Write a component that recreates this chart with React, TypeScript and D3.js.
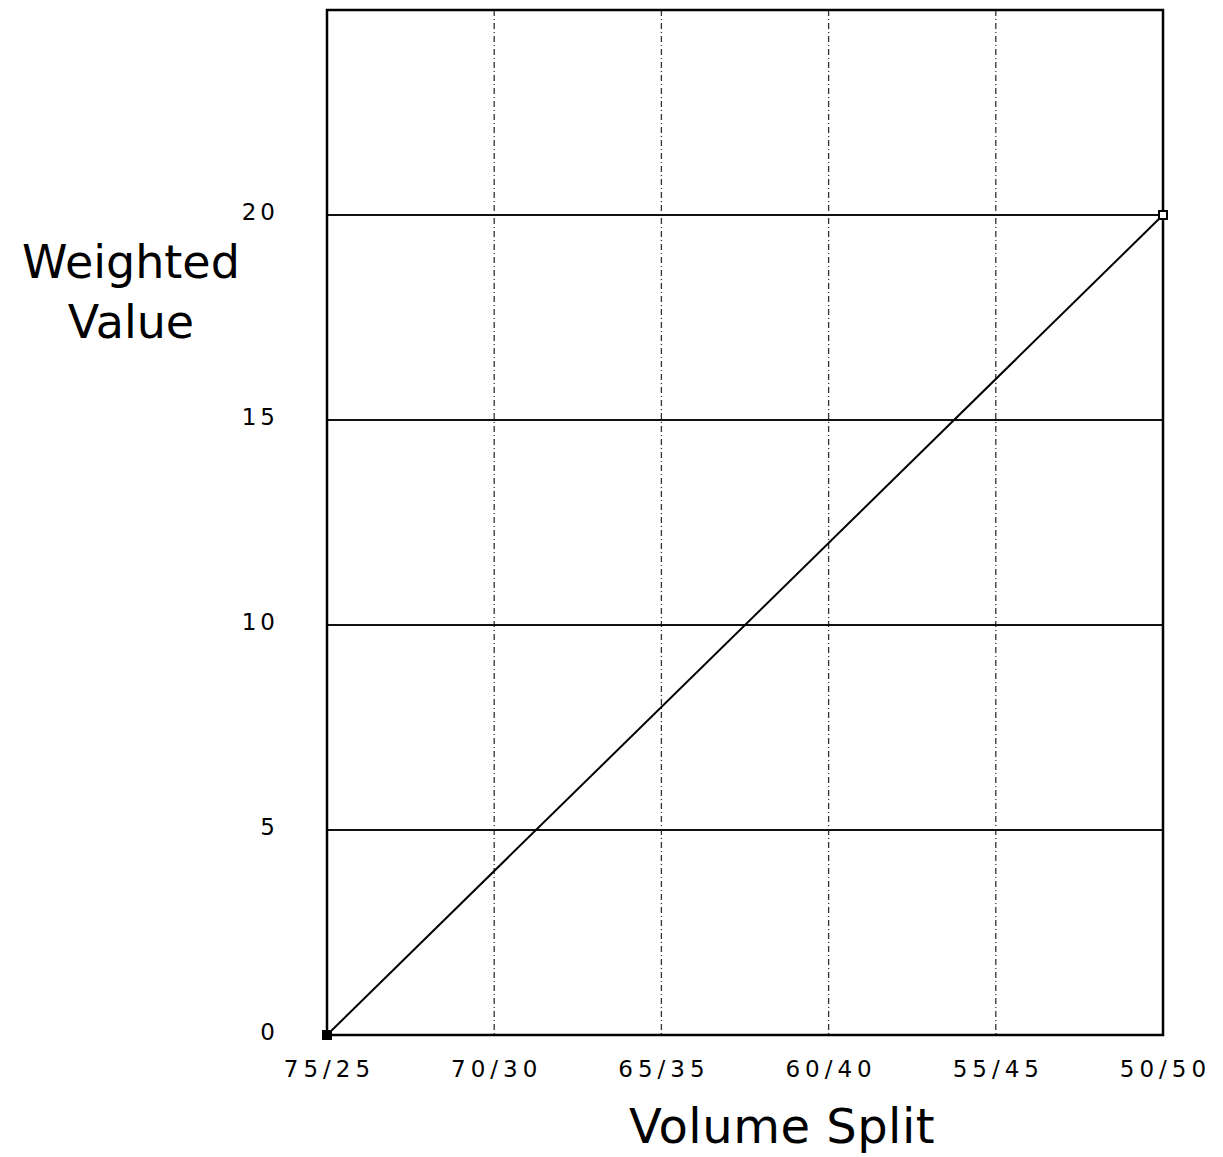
import React from "react";
import * as d3 from "d3";

// x categories (volume split), left to right
const splits = ["75/25", "70/30", "65/35", "60/40", "55/45", "50/50"];
// y ticks drawn with labels
const valueTicks = [0, 5, 10, 15, 20];
// the plotted series: only the end points are marked
const seriesSplits = ["75/25", "50/50"];
const seriesValues = [0, 20];

const W = 1223;
const H = 1157;
const margin = { top: 10, right: 60, bottom: 122, left: 327 };

export default function App() {
  const x = d3
    .scalePoint<string>()
    .domain(splits)
    .range([margin.left, W - margin.right]);

  const y = d3
    .scaleLinear()
    .domain([0, 25])
    .range([H - margin.bottom, margin.top]);

  const points = seriesSplits.map((s, i) => ({ s, v: seriesValues[i] }));

  const line = d3
    .line<{ s: string; v: number }>()
    .x((d) => x(d.s)!)
    .y((d) => y(d.v));

  const x0 = x.range()[0];
  const x1 = x.range()[1];
  const yTop = y(25);
  const yBottom = y(0);

  const font = "'DejaVu Sans', Verdana, sans-serif";
  const tickLs = 5;

  return (
    <svg
      width={W}
      height={H}
      style={{ position: "absolute", left: 0, top: 0, background: "#fff" }}
      fontFamily={font}
    >
      {/* vertical grid lines, dashed */}
      {splits.slice(1, -1).map((s) => (
        <line
          key={s}
          x1={x(s)}
          x2={x(s)}
          y1={yTop}
          y2={yBottom}
          stroke="#333"
          strokeWidth={1.3}
          strokeDasharray="6,3,1,3"
        />
      ))}

      {/* horizontal grid lines, solid */}
      {valueTicks
        .filter((t) => t > 0)
        .map((t) => (
          <line
            key={t}
            x1={x0}
            x2={x1}
            y1={y(t)}
            y2={y(t)}
            stroke="#111"
            strokeWidth={1.8}
          />
        ))}

      {/* frame */}
      <rect
        x={x0}
        y={yTop}
        width={x1 - x0}
        height={yBottom - yTop}
        fill="none"
        stroke="#000"
        strokeWidth={2.5}
      />

      {/* series */}
      <path d={line(points) ?? ""} fill="none" stroke="#000" strokeWidth={2} />
      {points.map((d, i) => (
        <rect
          key={d.s}
          x={x(d.s)! - 4}
          y={y(d.v) - 4}
          width={8}
          height={8}
          fill={i === 0 ? "#000" : "#fff"}
          stroke="#000"
          strokeWidth={2}
        />
      ))}

      {/* y tick labels */}
      {valueTicks.map((t) => (
        <text
          key={t}
          x={279}
          y={y(t) + 5}
          textAnchor="end"
          fontSize={23}
          letterSpacing={4}
          fill="#000"
        >
          {t}
        </text>
      ))}

      {/* x tick labels */}
      {splits.map((s) => (
        <text
          key={s}
          x={x(s)! + tickLs / 2}
          y={1077}
          textAnchor="middle"
          fontSize={23}
          letterSpacing={tickLs}
          fill="#000"
        >
          {s}
        </text>
      ))}

      {/* axis titles */}
      <text x={131} y={278} textAnchor="middle" fontSize={46} fill="#000">
        Weighted
      </text>
      <text x={131} y={338} textAnchor="middle" fontSize={46} fill="#000">
        Value
      </text>
      <text x={782} y={1143} textAnchor="middle" fontSize={48} letterSpacing={0.5} fill="#000">
        Volume Split
      </text>
    </svg>
  );
}
